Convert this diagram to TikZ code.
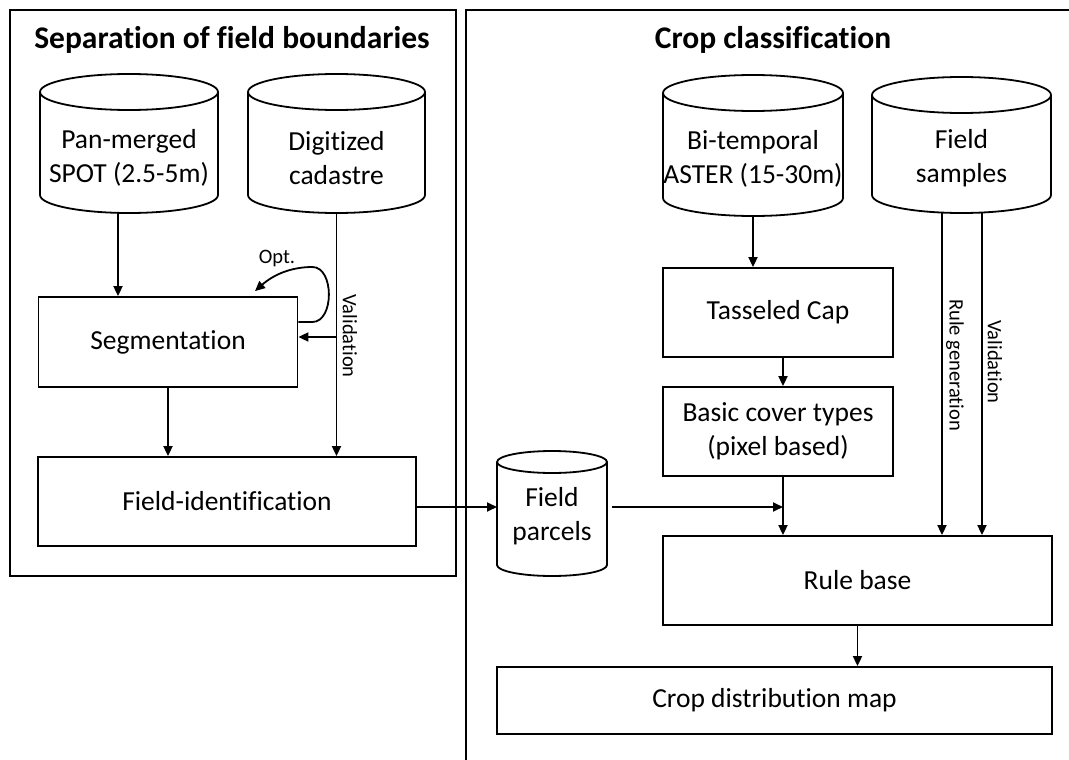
\documentclass[tikz,border=0pt]{standalone}
\usepackage{fontspec}
\setmainfont[Ligatures=NoCommon]{Carlito}
\usetikzlibrary{arrows.meta, positioning, calc}
\newcommand{\boxfont}{\fontsize{27.5}{34}\selectfont}
\newcommand{\titlefont}{\fontsize{31.5}{38}\selectfont\bfseries}
\newcommand{\lblfont}{\fontsize{20.5}{24}\selectfont}
% cylinder outline round an empty node: #1 node name, #2 ellipse half height
\newcommand{\storeoutline}[2]{%
  \draw[storeline] let \p1=(#1.north west), \p2=(#1.south east), \n1={(\x2-\x1)/2} in
    (\x1,\y1-#2) -- (\x1,\y2+#2) arc[start angle=180, end angle=360, x radius=\n1, y radius=#2]
    -- (\x2,\y1-#2) arc[start angle=0, end angle=180, x radius=\n1, y radius=#2]
    arc[start angle=180, end angle=360, x radius=\n1, y radius=#2];}

\begin{document}
\begin{tikzpicture}[x=1pt, y=-1pt,
  procbox/.style={rectangle, draw, line width=1.8pt, align=center, font=\boxfont},
  datastore/.style={rectangle, inner sep=0pt, outer sep=0pt},
  storeline/.style={line width=1.8pt},
  storetext/.style={align=center, font=\boxfont},
  flow/.style={-{Triangle[length=10pt, width=9pt]}, line width=1.8pt},
  flowlabel/.style={font=\lblfont, inner sep=0pt},
  panel/.style={line width=2.2pt}]
\useasboundingbox (0,0) rectangle (1069,760);

% the two panels
\draw[panel] (10,10) rectangle (456,576);
\draw[panel] (1090,10) -- (466,10) -- (466,780);
\node[font=\titlefont] (lefttitle) at (232,40) {Separation of field boundaries};
\node[font=\titlefont] (righttitle) at (773,40) {Crop classification};

% data sources
\node[datastore, minimum width=178pt, minimum height=139pt] (spot) at (129,143.5) {};
\storeoutline{spot}{18pt}
\node[storetext] (spottext) at (129,158) {Pan-merged\\SPOT (2.5-5m)};
\node[datastore, minimum width=177pt, minimum height=139pt] (cadastre) at (336.5,143.5) {};
\storeoutline{cadastre}{18pt}
\node[storetext] (cadastretext) at (336.5,158) {Digitized\\cadastre};
\node[datastore, minimum width=180pt, minimum height=141pt] (aster) at (753,145.5) {};
\storeoutline{aster}{18pt}
\node[storetext] (astertext) at (753,159) {Bi-temporal\\ASTER (15-30m)};
\node[datastore, minimum width=179pt, minimum height=136pt] (samples) at (961.5,145) {};
\storeoutline{samples}{18pt}
\node[storetext] (samplestext) at (961.5,158) {Field\\samples};
\node[datastore, minimum width=110pt, minimum height=125pt] (parcels) at (552,513.5) {};
\storeoutline{parcels}{11pt}
\node[storetext] (parcelstext) at (552,516) {Field\\parcels};

% processing steps
\node[procbox, minimum width=259pt, minimum height=90pt] (seg) at (168,342) {Segmentation};
\node[procbox, minimum width=378pt, minimum height=89pt] (fieldid) at (227,501.5) {Field-identification};
\node[procbox, minimum width=230pt, minimum height=89pt] (tassel) at (778,312.5) {Tasseled Cap};
\node[procbox, minimum width=230pt, minimum height=89pt] (basic) at (778,431.5) {Basic cover types\\(pixel based)};
\node[procbox, minimum width=389pt, minimum height=89pt] (rulebase) at (857.5,580.5) {Rule base};
\node[procbox, minimum width=555pt, minimum height=67pt] (cropmap) at (774.5,700.5) {Crop distribution map};

% left panel connectors
\draw[flow] ([xshift=-11pt]spot.south) -- ([xshift=-11pt]spot.south |- seg.north);
\draw[flow] (cadastre.south) -- (cadastre.south |- fieldid.north);
\path ([yshift=5pt]seg.east) coordinate (segin);
\draw[flow] (cadastre.south |- segin) -- (segin);
\node[flowlabel, rotate=-90] (vallabel) at (350,336) {Validation};
\draw[flow] (seg.south) -- (seg.south |- fieldid.north);
\path ([yshift=20pt]seg.east) coordinate (optout);
\path ([xshift=87pt, yshift=5pt]seg.north) coordinate (optin);
\draw[flow] (optout) -- ++(14,0) .. controls +(22,0) and +(22,0) .. ++(0,-55)
  .. controls +(-22,0) and +(18,-16) .. (optin);
\node[flowlabel] (optlabel) at (277,258) {Opt.};

% right panel connectors
\path ([yshift=-5.5pt]fieldid.east) coordinate (fidout);
\draw[flow] (fidout) -- (parcels.west |- fidout);
\path ([xshift=5pt]basic.south) coordinate (basicout);
\draw[flow] ([xshift=5pt]parcels.east |- fidout) -- (basicout |- fidout);
\draw[flow] (aster.south) -- (aster.south |- tassel.north);
\draw[flow] ([xshift=5pt]tassel.south) -- ([xshift=5pt]basic.north);
\draw[flow] (basicout) -- (basicout |- rulebase.north);
\draw[flow] ([xshift=-19.5pt]samples.south) -- ([xshift=-19.5pt]samples.south |- rulebase.north);
\draw[flow] ([xshift=20.5pt]samples.south) -- ([xshift=20.5pt]samples.south |- rulebase.north);
\node[flowlabel, rotate=-90] (rulelabel) at (955,365) {Rule generation};
\node[flowlabel, rotate=-90] (samplelabel) at (995,362) {Validation};
\draw[flow] (rulebase.south) -- (rulebase.south |- cropmap.north);
\end{tikzpicture}
\end{document}
